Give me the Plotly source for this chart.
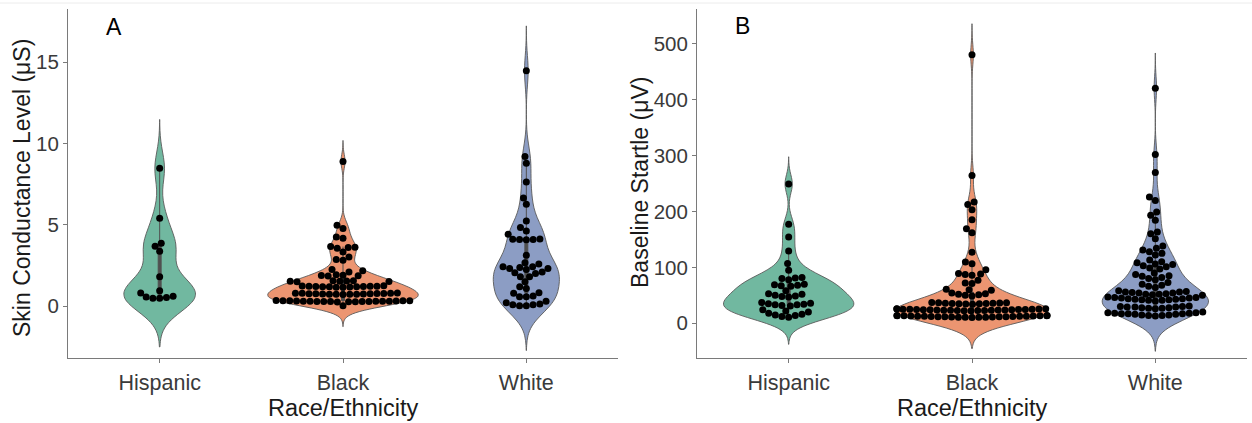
import numpy as np
import plotly.graph_objects as go

# ---------------- data ----------------
categories = ["Hispanic", "Black", "White"]

scl_hispanic = [8.48, 5.40, 3.86, 3.68, 3.37, 1.80, 0.94, 0.80, 0.60, 0.55, 0.52, 0.48, 0.48]

scl_black = [8.90, 4.97, 4.77, 4.25, 4.17, 3.66, 3.62, 3.60, 3.55, 3.33, 3.02, 2.86, 2.82,
             2.25, 2.17, 2.10,
             1.92, 1.90, 1.88, 1.86, 1.84,
             1.56, 1.55, 1.54, 1.53, 1.52, 1.51, 1.50,
             1.24, 1.23, 1.22, 1.22, 1.21, 1.20, 1.20, 1.19, 1.18, 1.18, 1.17, 1.16, 1.16,
             0.80, 0.79, 0.79, 0.78, 0.77, 0.77, 0.76, 0.75, 0.75, 0.74, 0.74, 0.73, 0.73, 0.72, 0.72, 0.71,
             0.34, 0.33, 0.33, 0.32, 0.32, 0.31, 0.31, 0.30, 0.30, 0.30, 0.29, 0.29, 0.28, 0.28, 0.28,
             0.27, 0.27, 0.26, 0.26, 0.25,
             0.02]

scl_white = [14.48, 9.20, 8.79, 7.63, 6.64, 6.26, 5.23, 4.83, 4.62, 4.42,
             4.12, 4.11, 4.10, 4.09, 4.08, 3.13, 2.66, 2.58, 2.41, 2.41, 2.37, 2.31, 2.31,
             2.25, 2.09, 2.04, 2.00, 1.80, 1.80, 1.49, 1.18, 1.08, 0.82, 0.78, 0.61, 0.57,
             0.57, 0.29, 0.20, 0.12, 0.08, 0.08, 0.02, 0.02]

startle_hispanic = [249, 177, 154, 129, 107, 95, 82, 81, 80, 78, 70, 69, 68, 67, 66, 58,
                    53, 52, 50, 49, 48, 47, 37, 36, 35, 34, 33, 33, 32, 31,
                    24, 22, 20, 18, 16, 15, 14, 12, 11]

startle_black = [479.8, 264.3, 216.6, 212.5, 203.0, 185.0, 169.0, 162.0, 127.0, 109.5, 106.5, 95.8,
                 89, 88, 87, 86, 76.8, 72, 71, 61, 60, 59, 54, 53, 52, 51, 50, 49,
                 37.0, 36.8, 36.5, 36.2, 36.0, 35.7, 35.5, 35.2, 35.0, 34.8, 34.5, 34.2,
                 25.9, 25.8, 25.6, 25.5, 25.3, 25.1, 25.0, 24.8, 24.7, 24.5, 24.4, 24.2,
                 24.1, 23.9, 23.8, 23.6, 23.5, 23.3, 23.2, 23.0, 22.9, 22.7, 22.6, 22.4,
                 14.0, 13.9, 13.7, 13.6, 13.4, 13.3, 13.1, 13.0, 12.8, 12.7, 12.5, 12.4,
                 12.2, 12.1, 11.9, 11.8, 11.6, 11.5, 11.3, 11.2, 11.0, 10.9, 10.7, 10.6, 10.4]

startle_white = [420, 301.8, 269.6, 225.6, 219.6, 198.8, 192.9, 184, 163, 160, 151,
                 138, 134, 131, 128, 125, 122,
                 113, 110, 108, 106, 105, 103, 101, 99, 97,
                 90, 87, 85, 84, 82, 80, 78,
                 73, 70, 68, 66, 64,
                 58, 57, 56, 56, 55, 54, 54, 53, 52, 52, 51, 50,
                 47, 46, 46, 45, 45, 44, 44, 43, 43, 42, 42, 41, 41, 40,
                 31, 30, 30, 29, 29, 29, 28, 28, 27, 27, 26,
                 20, 19, 19, 18, 18, 17, 17, 17, 16, 16, 15, 15, 14, 14, 13]

yticks_a = [0, 5, 10, 15]
yticks_b = [0, 100, 200, 300, 400, 500]

# ---------------- style / layout ----------------
W, H = 1252, 423
PLOT_TOP, PLOT_BOTTOM = 9, 358
PANEL_A = (68, 618)
PANEL_B = (697, 1247)
XRANGE = [0.5, 3.5]
YRANGE_A = [-3.2, 18.28]
YRANGE_B = [-62, 561.6]
BW_A = [1.0, 0.43, 0.92]
BW_B = [16.2, 18.5, 21.0]
WIDTH_A = [0.39, 0.82, 0.36]
WIDTH_B = [0.71, 0.83, 0.58]
FILLS = ["#71B8A0", "#EC9571", "#8C9DC4"]
OUTLINE = "#5a5a5a"
AXIS_COLOR = "#7a7a7a"
FONT = "Liberation Sans, Arial, sans-serif"
DOT = 7
SPACING = 6.8
CORRAL = 0.41


def swarm(vals, sx, sy, d, corral):
    ys = np.asarray(vals, dtype=float) * sy
    order = np.argsort(ys, kind="stable")
    px_list, py_list = [], []
    out = np.zeros(len(ys))
    for i in order:
        y = ys[i]
        cands = [0.0]
        for px, py in zip(px_list, py_list):
            dy = abs(y - py)
            if dy < d:
                dx = np.sqrt(d * d - dy * dy)
                cands += [px + dx, px - dx]
        cands = sorted(cands, key=lambda c: (round(abs(c), 6), c))
        chosen = cands[-1]
        for c in cands:
            ok = True
            for px, py in zip(px_list, py_list):
                if (c - px) ** 2 + (y - py) ** 2 < d * d - 1e-6:
                    ok = False
                    break
            if ok:
                chosen = c
                break
        out[i] = chosen
        px_list.append(chosen)
        py_list.append(y)
    off = out / sx
    return np.clip(off, -corral, corral)


fig = go.Figure()

panels = [
    (("x", "y"), [scl_hispanic, scl_black, scl_white], BW_A, WIDTH_A, PANEL_A, YRANGE_A),
    (("x2", "y2"), [startle_hispanic, startle_black, startle_white], BW_B, WIDTH_B, PANEL_B, YRANGE_B),
]

plot_h = PLOT_BOTTOM - PLOT_TOP
for (xa, ya), groups, bws, widths, (x0, x1), yr in panels:
    sx = (x1 - x0) / (XRANGE[1] - XRANGE[0])
    sy = plot_h / (yr[1] - yr[0])
    for i, vals in enumerate(groups):
        bw = bws[i]
        w = widths[i]
        fig.add_trace(go.Violin(
            x0=i + 1, y=vals, xaxis=xa, yaxis=ya,
            fillcolor=FILLS[i], line=dict(color=OUTLINE, width=0.9),
            width=w, scalemode="width", bandwidth=bw,
            spanmode="manual", span=[min(vals) - 3 * bw, max(vals) + 3 * bw],
            points=False, opacity=1,
            box=dict(visible=True, width=0.016 / w, fillcolor="#505050",
                     line=dict(color="#505050", width=1)),
            meanline=dict(visible=False),
            showlegend=False, hoverinfo="skip",
        ))
    for i, vals in enumerate(groups):
        off = swarm(vals, sx, sy, SPACING, CORRAL)
        fig.add_trace(go.Scatter(
            x=(i + 1) + off, y=vals, xaxis=xa, yaxis=ya, mode="markers",
            marker=dict(color="black", size=DOT, line=dict(width=0)),
            showlegend=False, hoverinfo="skip",
        ))

ydom = [(H - PLOT_BOTTOM) / H, (H - PLOT_TOP) / H]
common_x = dict(range=XRANGE, tickvals=[1, 2, 3], ticktext=categories,
                showline=True, linecolor=AXIS_COLOR, linewidth=1,
                ticks="outside", ticklen=4, tickcolor=AXIS_COLOR, tickwidth=1,
                showgrid=False, zeroline=False, ticklabelstandoff=1,
                tickfont=dict(family=FONT, size=21.5, color="#3a3a3a"))
common_y = dict(showline=True, linecolor=AXIS_COLOR, linewidth=1,
                ticks="outside", ticklen=4, tickcolor=AXIS_COLOR, tickwidth=1,
                showgrid=False, zeroline=False, domain=ydom,
                tickfont=dict(family=FONT, size=20.5, color="#3a3a3a"))

fig.update_layout(
    width=W, height=H,
    margin=dict(l=0, r=0, t=0, b=0),
    paper_bgcolor="white", plot_bgcolor="white",
    font=dict(family=FONT),
    violinmode="overlay",
    xaxis=dict(domain=[PANEL_A[0] / W, PANEL_A[1] / W], anchor="y", **common_x),
    yaxis=dict(range=YRANGE_A, tickvals=yticks_a, anchor="x", **common_y),
    xaxis2=dict(domain=[PANEL_B[0] / W, PANEL_B[1] / W], anchor="y2", **common_x),
    yaxis2=dict(range=YRANGE_B, tickvals=yticks_b, anchor="x2", **common_y),
    shapes=[dict(type="line", xref="paper", yref="paper", x0=0, x1=1,
                 y0=1 - 3 / H, y1=1 - 3 / H, line=dict(color="#ececec", width=1))],
    annotations=[
        dict(text="A", x=114 / W, y=1 - 27 / H, xref="paper", yref="paper",
             showarrow=False, xanchor="center", yanchor="middle",
             font=dict(family=FONT, size=23, color="black")),
        dict(text="B", x=742 / W, y=1 - 26 / H, xref="paper", yref="paper",
             showarrow=False, xanchor="center", yanchor="middle",
             font=dict(family=FONT, size=23, color="black")),
        dict(text="Skin Conductance Level (μS)", x=22 / W, y=1 - 188 / H,
             xref="paper", yref="paper", showarrow=False, textangle=-90,
             xanchor="center", yanchor="middle",
             font=dict(family=FONT, size=23, color="#1a1a1a")),
        dict(text="Baseline Startle (μV)", x=640 / W, y=1 - 183 / H,
             xref="paper", yref="paper", showarrow=False, textangle=-90,
             xanchor="center", yanchor="middle",
             font=dict(family=FONT, size=23, color="#1a1a1a")),
        dict(text="Race/Ethnicity", x=343 / W, y=1 - 408 / H,
             xref="paper", yref="paper", showarrow=False,
             xanchor="center", yanchor="middle",
             font=dict(family=FONT, size=23.5, color="#1a1a1a")),
        dict(text="Race/Ethnicity", x=972 / W, y=1 - 408 / H,
             xref="paper", yref="paper", showarrow=False,
             xanchor="center", yanchor="middle",
             font=dict(family=FONT, size=23.5, color="#1a1a1a")),
    ],
)

fig.write_html("out.html", config={"displayModeBar": False},
               post_script="document.body.style.margin='0px';document.body.style.overflow='hidden';")
